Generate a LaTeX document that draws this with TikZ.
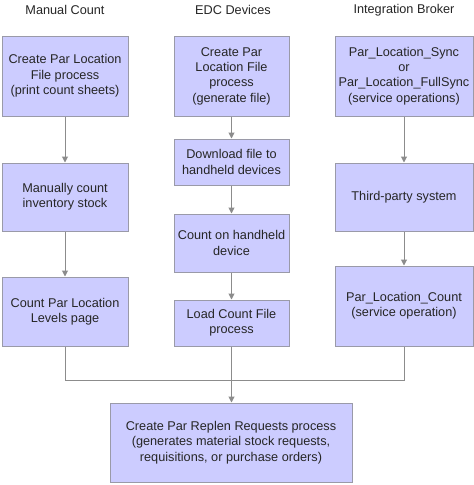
\documentclass[tikz,border=0pt]{standalone}
\usepackage{fontspec}
\setmainfont{Liberation Sans}
\usetikzlibrary{arrows.meta}
\definecolor{boxfill}{HTML}{CCCCFF}
\definecolor{boxline}{HTML}{9A9AA8}
\definecolor{arrowcol}{HTML}{8C8C8C}
\begin{document}
\begin{tikzpicture}[x=1pt,y=-1pt,
  procbox/.style={draw=boxline,line width=1pt,fill=boxfill,align=center,inner sep=0pt,
    font=\fontsize{12.7}{15.3}\selectfont,text=black!85},
  header/.style={font=\fontsize{12.7}{15.3}\selectfont,text=black!85},
  flow/.style={draw=arrowcol,line width=1pt,-{Triangle[width=6pt,length=6pt]}},
  joinline/.style={draw=arrowcol,line width=1pt}]
\useasboundingbox[fill=white] (0,0) rectangle (474,485);
% headers
\node[header] (h1) at (65,10) {Manual Count};
\node[header] (h2) at (233,10) {EDC Devices};
\node[header] (h3) at (404,10) {Integration Broker};
% manual count
\node[procbox,minimum width=126pt,minimum height=80pt] (m1) at (65,76) {Create Par Location\\File process\\(print count sheets)};
\node[procbox,minimum width=126pt,minimum height=68pt] (m2) at (65,197) {Manually count\\inventory stock};
\node[procbox,minimum width=126pt,minimum height=69pt] (m3) at (65,311.5) {Count Par Location\\Levels page};
% EDC
\node[procbox,minimum width=115pt,minimum height=80pt] (e1) at (231.5,76) {Create Par\\Location File\\process\\(generate file)};
\node[procbox,minimum width=115pt,minimum height=46pt] (e2) at (231.5,162) {Download file to\\handheld devices};
\node[procbox,minimum width=115pt,minimum height=58pt] (e3) at (231.5,243) {Count on handheld\\device};
\node[procbox,minimum width=115pt,minimum height=46pt] (e4) at (231.5,323) {Load Count File\\process};
% integration broker
\node[procbox,minimum width=138pt,minimum height=80pt] (i1) at (404,76) {Par\_Location\_Sync\\or\\Par\_Location\_FullSync\\(service operations)};
\node[procbox,minimum width=138pt,minimum height=68pt] (i2) at (404,197) {Third-party system};
\node[procbox,minimum width=138pt,minimum height=80pt] (i3) at (404,306) {Par\_Location\_Count\\(service operation)};
% bottom
\node[procbox,minimum width=242pt,minimum height=79pt] (b) at (231,442.5) {Create Par Replen Requests process\\(generates material stock requests,\\requisitions, or purchase orders)};
% connectors
\draw[flow] (m1) -- (m2);
\draw[flow] (m2) -- (m3);
\draw[flow] (e1.south) -- (e2.north);
\draw[flow] (e2.south) -- (e3.north);
\draw[flow] (e3.south) -- (e4.north);
\draw[flow] (e4.south) -- (b.north -| e4.south);
\draw[flow] (i1) -- (i2);
\draw[flow] (i2) -- (i3);
\coordinate (jl) at (65,380);
\coordinate (jr) at (404,380);
\draw[joinline] (m3.south) -- (jl) -- (jr) -- (i3.south);
\end{tikzpicture}
\end{document}
